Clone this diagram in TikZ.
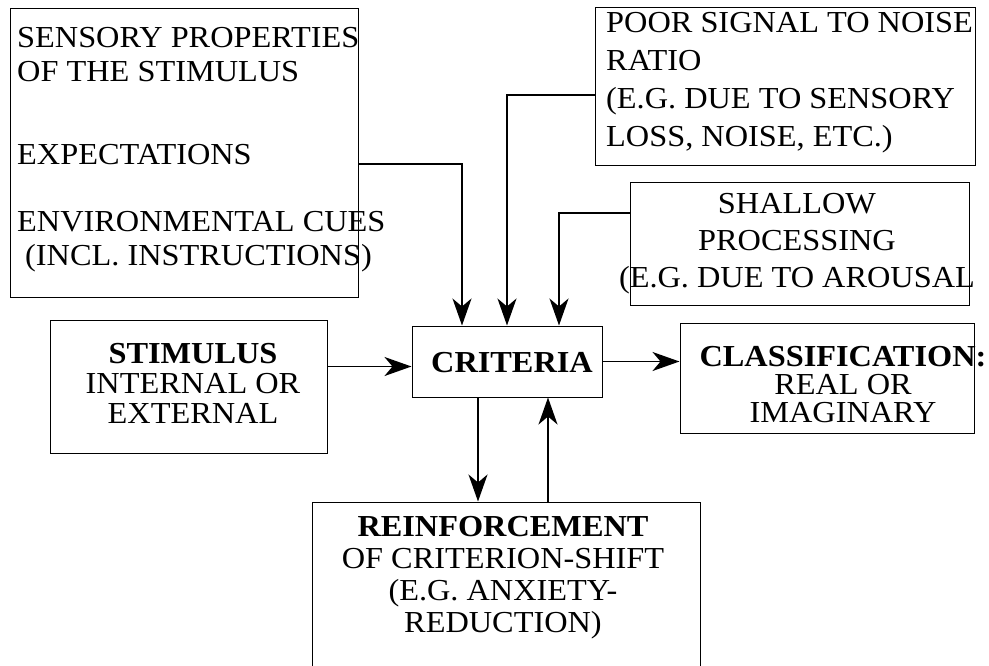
\documentclass[tikz,border=0pt]{standalone}
\usepackage{fontspec}
\setmainfont{Liberation Serif}[FakeStretch=1.06]
\usetikzlibrary{arrows.meta}

\tikzset{
    box/.style = {draw, line width=1pt, inner sep=0pt},
    txt/.style = {inner sep=0pt, font=\fontsize{30.5}{#1}\selectfont},
    txt/.default = 34,
    arr/.style = {line width=1.9pt, -{Stealth[length=27pt, width=19pt, inset=8pt]}}
}

\begin{document}
\begin{tikzpicture}[x=1pt, y=-1pt]
                    \useasboundingbox (0,0) rectangle (989,665);

                    \node[box, minimum width=348pt, minimum height=289pt] (sens) at (184,152.5) {};
                    \node[box, minimum width=380pt, minimum height=158pt] (poor) at (785,86) {};
                    \node[box, minimum width=339pt, minimum height=123pt] (shal) at (799.5,243.5) {};
                    \node[box, minimum width=277pt, minimum height=133pt] (stim) at (188.5,386.5) {};
                    \node[box, minimum width=190pt, minimum height=71pt] (crit) at (507,361.5) {};
                    \node[box, minimum width=294pt, minimum height=110pt] (clas) at (827,378) {};
                    \node[box, minimum width=388pt, minimum height=218pt] (reinf) at (506,611) {};

                    \node[txt=34, anchor=north west, align=left] (senstxt) at (17,27)
                        {SENSORY PROPERTIES\\OF THE STIMULUS\\[49pt]EXPECTATIONS\\[33pt]ENVIRONMENTAL CUES\\\hspace*{8pt}(INCL. INSTRUCTIONS)};
                    \node[txt=38, anchor=north west, align=left] (poortxt) at (606,12)
                        {POOR SIGNAL TO NOISE\\RATIO\\(E.G. DUE TO SENSORY\\LOSS, NOISE, ETC.)};
                    \node[txt=37, anchor=north, align=center] (shaltxt) at (797,193)
                        {SHALLOW\\PROCESSING\\(E.G. DUE TO AROUSAL};
                    \node[txt=30, anchor=north, align=center] (stimtxt) at (193,343)
                        {\textbf{STIMULUS}\\INTERNAL OR\\EXTERNAL};
                    \node[txt, anchor=north] (crittxt) at (512,352) {\textbf{CRITERIA}};
                    \node[txt=28, anchor=north, align=center] (clastxt) at (843,346)
                        {\textbf{CLASSIFICATION:}\\REAL OR\\IMAGINARY};
                    \node[txt=32, anchor=north, align=center] (reinftxt) at (503,516)
                        {\textbf{REINFORCEMENT}\\OF CRITERION-SHIFT\\(E.G. ANXIETY-\\REDUCTION)};

                    \coordinate (a1) at ([yshift=-11.5pt]sens.east);
                    \coordinate (b1) at ([xshift=-45pt]crit.north);
                    \draw[arr] (a1) -| (b1);

                    \coordinate (a2) at ([yshift=-9pt]poor.west);
                    \coordinate (b2) at (crit.north);
                    \draw[arr] (a2) -| (b2);

                    \coordinate (a3) at ([yshift=30.5pt]shal.west);
                    \coordinate (b3) at ([xshift=52pt]crit.north);
                    \draw[arr] (a3) -| (b3);

                    \coordinate (a4) at ([yshift=20pt]stim.east);
                    \draw[arr] (a4) -- (a4 -| crit.west);
                    \draw[arr] (crit.east) -- (crit.east -| clas.west);

                    \coordinate (a5) at ([xshift=-29pt]crit.south);
                    \draw[arr] (a5) -- (a5 |- reinf.north);
                    \coordinate (a6) at ([xshift=42pt]reinf.north);
                    \draw[arr] (a6) -- (a6 |- crit.south);

                \end{tikzpicture}
\end{document}
